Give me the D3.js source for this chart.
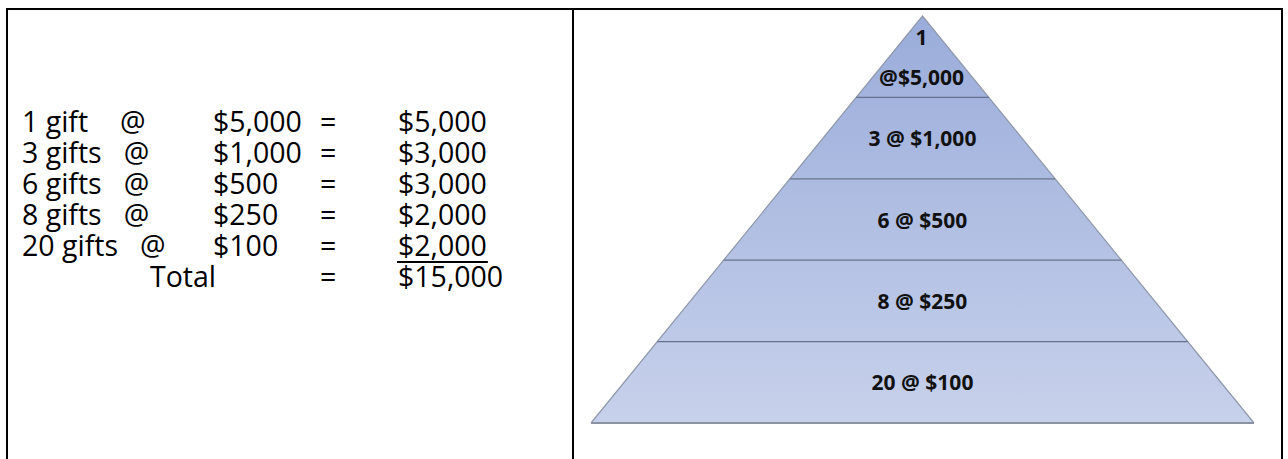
<!DOCTYPE html>
<html>
<head>
<meta charset="utf-8">
<script src="https://cdn.jsdelivr.net/npm/d3@7"></script>
<style>
  body { margin: 0; background: #fff; }
  text { white-space: pre; }
</style>
</head>
<body>
<div class="canvas"></div>
<script>
// gift table
const giftCounts = ["1 gift", "3 gifts", "6 gifts", "8 gifts", "20 gifts"]
const giftAmounts = ["$5,000", "$1,000", "$500", "$250", "$100"]
const subtotals = ["$5,000", "$3,000", "$3,000", "$2,000", "$2,000"]
const totalLabel = "Total"
const totalValue = "$15,000"

// pyramid tiers, top to bottom
const tierCounts = [1, 3, 6, 8, 20]
const tierAmounts = ["$5,000", "$1,000", "$500", "$250", "$100"]

const W = 1288, H = 459
const svg = d3
  .select(".canvas")
  .append("svg")
  .attr("width", W)
  .attr("height", H)

// frame
const frame = svg.append("g").attr("stroke", "#000").attr("stroke-width", 2)
frame.append("line").attr("x1", 6).attr("x2", 1283).attr("y1", 9).attr("y2", 9)
frame.append("line").attr("x1", 7).attr("x2", 7).attr("y1", 8).attr("y2", H)
frame.append("line").attr("x1", 573).attr("x2", 573).attr("y1", 8).attr("y2", H)
frame.append("line").attr("x1", 1282).attr("x2", 1282).attr("y1", 8).attr("y2", H)

// ---- left table ----
const rowY = d3.scaleLinear().domain([0, 1]).range([132, 163])
const tbl = svg
  .append("g")
  .style("font-family", "'Open Sans', 'Noto Sans', sans-serif")
  .style("font-size", "28.5px")
  .attr("fill", "#000")

const rows = tbl.selectAll("g.row").data(giftCounts).enter().append("g").attr("class", "row")
rows.append("text").attr("class", "cnt").attr("x", 22).attr("y", (d, i) => rowY(i)).text(d => d)
rows.append("text")
  .attr("x", function () {
    const b = this.parentNode.querySelector("text.cnt").getBBox()
    return Math.max(120, b.x + b.width + 22)
  })
  .attr("y", (d, i) => rowY(i)).text("@")
rows.append("text").attr("x", 213).attr("y", (d, i) => rowY(i)).text((d, i) => giftAmounts[i])
rows.append("text").attr("x", 320).attr("y", (d, i) => rowY(i)).text("=")
rows.append("text").attr("class", "sub").attr("x", 398).attr("y", (d, i) => rowY(i)).text((d, i) => subtotals[i])

// underline under last subtotal
const lastSub = rows.filter((d, i) => i === subtotals.length - 1).select("text.sub")
const bb = lastSub.node().getBBox()
tbl.append("line")
  .attr("x1", bb.x - 1).attr("x2", bb.x + bb.width + 1)
  .attr("y1", rowY(subtotals.length - 1) + 6).attr("y2", rowY(subtotals.length - 1) + 6)
  .attr("stroke", "#000").attr("stroke-width", 2)

tbl.append("text").attr("x", 150).attr("y", rowY(5)).text(totalLabel)
tbl.append("text").attr("x", 320).attr("y", rowY(5)).text("=")
tbl.append("text").attr("x", 398).attr("y", rowY(5)).text(totalValue)

// ---- pyramid ----
const cx = 922.5
const apexY = 16, baseY = 423
const y = d3.scaleLinear().domain([0, tierCounts.length]).range([apexY, baseY])
const halfW = d3.scaleLinear().domain([apexY, baseY]).range([0, 331.5])

const defs = svg.append("defs")
const grad = defs.append("linearGradient")
  .attr("id", "pyr").attr("gradientUnits", "userSpaceOnUse")
  .attr("x1", 0).attr("x2", 0).attr("y1", apexY).attr("y2", baseY)
grad.append("stop").attr("offset", 0).attr("stop-color", "#9aacda")
grad.append("stop").attr("offset", 1).attr("stop-color", "#c7d1eb")

const tiers = tierCounts.map((c, i) => ({ i, y0: y(i), y1: y(i + 1), count: c, amount: tierAmounts[i] }))
const tierPath = d => {
  const a = halfW(d.y0), b = halfW(d.y1)
  return d3.line()([
    [cx - a, d.y0], [cx + a, d.y0], [cx + b, d.y1], [cx - b, d.y1]
  ]) + "Z"
}

const pyr = svg.append("g")
pyr.selectAll("path.tier")
  .data(tiers)
  .enter()
  .append("path")
  .attr("class", "tier")
  .attr("d", tierPath)
  .attr("fill", "url(#pyr)")
  .attr("stroke", "none")

// sides
pyr.append("path")
  .attr("d", d3.line()([[cx - halfW(baseY), baseY], [cx, apexY], [cx + halfW(baseY), baseY]]))
  .attr("fill", "none").attr("stroke", "#8f98aa").attr("stroke-width", 1.2)
// dividers
pyr.selectAll("line.div")
  .data(tiers.slice(1))
  .enter()
  .append("line")
  .attr("class", "div")
  .attr("x1", d => cx - halfW(d.y0)).attr("x2", d => cx + halfW(d.y0))
  .attr("y1", d => d.y0).attr("y2", d => d.y0)
  .attr("stroke", "#66728b").attr("stroke-width", 1.2)
// base shadow
pyr.append("line")
  .attr("x1", cx - halfW(baseY)).attr("x2", cx + halfW(baseY))
  .attr("y1", baseY).attr("y2", baseY)
  .attr("stroke", "#8a92a4").attr("stroke-width", 2.2)

// labels
const lab = pyr.append("g")
  .style("font-family", "'Open Sans', 'Noto Sans', sans-serif")
  .style("font-weight", "bold")
  .style("font-size", "21px")
  .attr("fill", "#111")
  .attr("text-anchor", "middle")

lab.selectAll("text.lbl")
  .data(tiers.slice(1))
  .enter()
  .append("text")
  .attr("class", "lbl")
  .attr("x", cx)
  .attr("y", d => (d.y0 + d.y1) / 2 + 8)
  .text(d => d.count + " @ " + d.amount)

// top tier wraps onto two lines
const topTier = tiers[0]
lab.append("text").attr("x", cx - 1).attr("y", topTier.y0 + 29).text(topTier.count)
lab.append("text").attr("x", cx - 1).attr("y", topTier.y0 + 69).text("@" + topTier.amount)
</script>
</body>
</html>
